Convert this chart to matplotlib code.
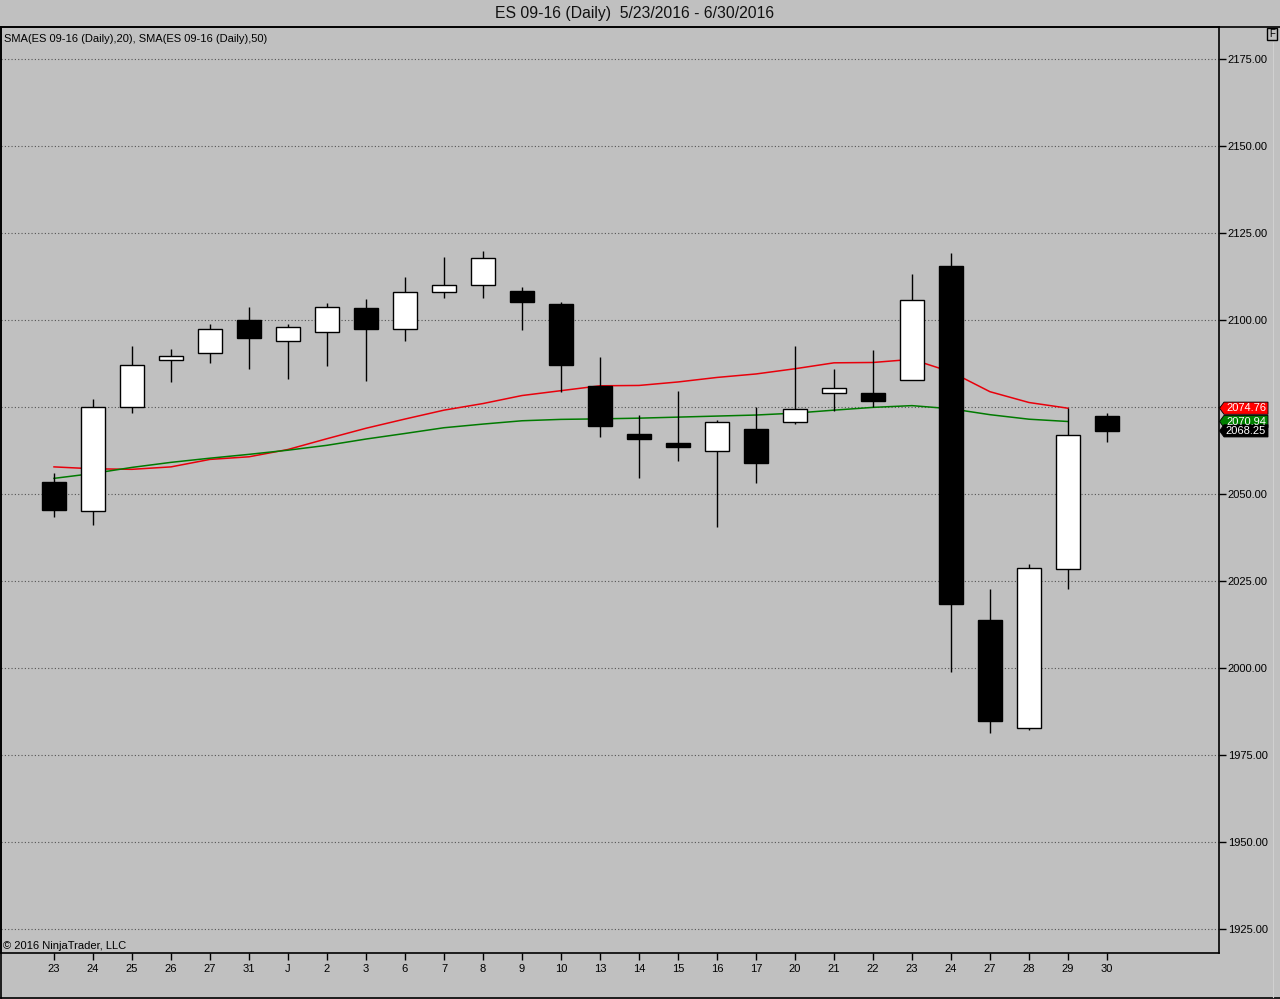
import matplotlib
matplotlib.use("Agg")
import matplotlib.pyplot as plt
from matplotlib.patches import Polygon, Rectangle
from matplotlib.transforms import blended_transform_factory
from matplotlib.lines import Line2D

plt.rcParams['font.family'] = ['Liberation Sans', 'DejaVu Sans']

# ---- data ----
day_labels = ["23", "24", "25", "26", "27", "31", "J", "2", "3", "6", "7", "8", "9", "10",
              "13", "14", "15", "16", "17", "20", "21", "22", "23", "24", "27", "28", "29", "30"]
opens = [2053.5, 2045.25, 2075.25, 2088.75, 2090.5, 2100.0, 2094.0, 2096.75, 2103.5, 2097.5,
         2108.25, 2110.25, 2108.5, 2104.75, 2081.0, 2067.25, 2064.75, 2062.5, 2068.75, 2070.75,
         2079.0, 2079.25, 2083.0, 2115.75, 2014.0, 1982.75, 2028.5, 2072.5]
highs = [2056.0, 2077.5, 2092.5, 2091.75, 2099.0, 2103.75, 2099.0, 2105.0, 2106.0, 2112.5,
         2118.25, 2120.0, 2109.5, 2105.25, 2089.5, 2072.75, 2079.75, 2071.5, 2075.0, 2092.5,
         2086.0, 2091.5, 2113.25, 2119.5, 2022.75, 2030.0, 2074.75, 2073.25]
lows = [2043.5, 2041.25, 2073.5, 2082.25, 2087.75, 2086.0, 2083.25, 2086.75, 2082.5, 2094.0,
        2106.5, 2106.5, 2097.25, 2079.5, 2066.5, 2054.75, 2059.5, 2040.75, 2053.25, 2070.25,
        2074.0, 2075.25, 2083.0, 1999.0, 1981.5, 1982.25, 2022.75, 2065.0]
closes = [2045.5, 2075.0, 2087.25, 2089.75, 2097.5, 2095.0, 2098.0, 2103.75, 2097.5, 2108.25,
          2110.25, 2118.0, 2105.25, 2087.25, 2069.75, 2066.0, 2063.5, 2070.75, 2059.0, 2074.5,
          2080.5, 2076.75, 2105.75, 2018.5, 1985.0, 2028.75, 2067.0, 2068.25]
sma20 = [2057.9, 2057.35, 2057.2, 2057.9, 2060.05, 2060.8, 2062.9, 2066.0, 2069.0, 2071.65,
         2074.2, 2076.1, 2078.4, 2079.8, 2081.2, 2081.3, 2082.3, 2083.6, 2084.6, 2086.1,
         2087.8, 2087.9, 2088.8, 2085.2, 2079.5, 2076.4, 2074.76]
sma50 = [2054.6, 2056.0, 2057.75, 2059.2, 2060.4, 2061.5, 2062.7, 2064.1, 2065.9, 2067.5,
         2069.15, 2070.2, 2071.15, 2071.55, 2071.7, 2071.9, 2072.2, 2072.5, 2072.8, 2073.35,
         2074.2, 2075.0, 2075.5, 2074.6, 2072.9, 2071.6, 2070.94]
price_ticks = [1925, 1950, 1975, 2000, 2025, 2050, 2075, 2100, 2125, 2150, 2175]
last_labels = ["2074.76", "2070.94", "2068.25"]
last_values = [2074.76, 2070.94, 2068.25]
last_colors = ["#FF0000", "#008000", "#000000"]

title = "ES 09-16 (Daily)  5/23/2016 - 6/30/2016"
legend_text = "SMA(ES 09-16 (Daily),20), SMA(ES 09-16 (Daily),50)"
copyright_text = "\u00a9 2016 NinjaTrader, LLC"

BG = "#C0C0C0"
W, H = 1280, 999
fig = plt.figure(figsize=(W / 100, H / 100), dpi=100, facecolor=BG)

ax_l, ax_r, ax_t, ax_b = 1, 1219.3, 27, 952.7
ax = fig.add_axes([ax_l / W, (H - ax_b) / H, (ax_r - ax_l) / W, (ax_b - ax_t) / H])
ax.set_facecolor(BG)

n = len(closes)
xs = list(range(n))

# grid
for p in price_ticks:
    ax.axhline(p, color="#555555", lw=0.8, ls=(0, (1, 2)), zorder=1)

# SMA lines
ax.plot(xs[:len(sma20)], sma20, color="#E8000B", lw=1.1, zorder=2)
ax.plot(xs[:len(sma50)], sma50, color="#007A00", lw=1.1, zorder=2)

# candles
body_w = 0.61
for i in range(n):
    o, h, l, c = opens[i], highs[i], lows[i], closes[i]
    ax.vlines(i, l, h, color="black", lw=1.0, zorder=3)
    bottom = min(o, c)
    height = max(abs(c - o), 0.25)
    fc = "white" if c >= o else "black"
    ax.add_patch(Rectangle((i - body_w / 2, bottom), body_w, height, facecolor=fc,
                           edgecolor="black", lw=1.0, zorder=4))

ax.set_xlim(-1.359, 29.88)
ax.set_ylim(1918.3, 2184.3)

ax.set_xticks(xs)
ax.set_xticklabels(day_labels)
ax.yaxis.tick_right()
ax.set_yticks(price_ticks)
ax.set_yticklabels([f"{p:.2f}" for p in price_ticks])
ax.tick_params(axis="x", length=5, width=1, pad=3, labelsize=8, colors="black", direction="out")
ax.tick_params(axis="y", length=5, width=1, pad=1, labelsize=8, colors="black", direction="out")
for s in ax.spines.values():
    s.set_color("black")
    s.set_linewidth(1.2)

# last value markers on the right axis
tr = blended_transform_factory(ax.transAxes, ax.transData)
axw = ax_r - ax_l
def fx(px):
    return (px - ax_l) / axw
hh = 1.75
for lab, v, col in zip(last_labels, last_values, last_colors):
    poly = Polygon([(fx(1219.5), v), (fx(1224), v + hh), (fx(1268), v + hh),
                    (fx(1268), v - hh), (fx(1224), v - hh)], closed=True,
                   transform=tr, facecolor=col, edgecolor="black", lw=0.6,
                   clip_on=False, zorder=10)
    ax.add_patch(poly)
    ax.text(fx(1246), v, lab, transform=tr, color="white", fontsize=8,
            ha="center", va="center", clip_on=False, zorder=11)

# texts
fig.text(635 / W, 1 - 13.5 / H, title, ha="center", va="center", fontsize=11.3, color="#111111")
ax.text(3 / axw, 1 - (39 - ax_t) / (ax_b - ax_t), legend_text, transform=ax.transAxes,
        fontsize=8, ha="left", va="center", color="black")
ax.text(2 / axw, 1 - (946 - ax_t) / (ax_b - ax_t), copyright_text, transform=ax.transAxes,
        fontsize=8, ha="left", va="center", color="black")

# outer frame
def fl(x0, y0, x1, y1, lw=1.2, color="black"):
    fig.add_artist(Line2D([x0 / W, x1 / W], [1 - y0 / H, 1 - y1 / H], color=color, lw=lw))
fl(0.5, 27, 1280, 27)
fl(1, 27, 1, 997.5)
fl(1, 997.5, 1280, 997.5)
fl(1273, 42, 1273, 997, lw=0.8, color="#D0D0D0")

# "F" box
fig.add_artist(Rectangle((1267 / W, 1 - 40 / H), 10 / W, 12 / H, transform=fig.transFigure,
                         facecolor=BG, edgecolor="black", lw=1))
fig.text(1272 / W, 1 - 34 / H, "F", ha="center", va="center", fontsize=7, color="black")

fig.savefig("out.png", dpi=100, facecolor=BG)
